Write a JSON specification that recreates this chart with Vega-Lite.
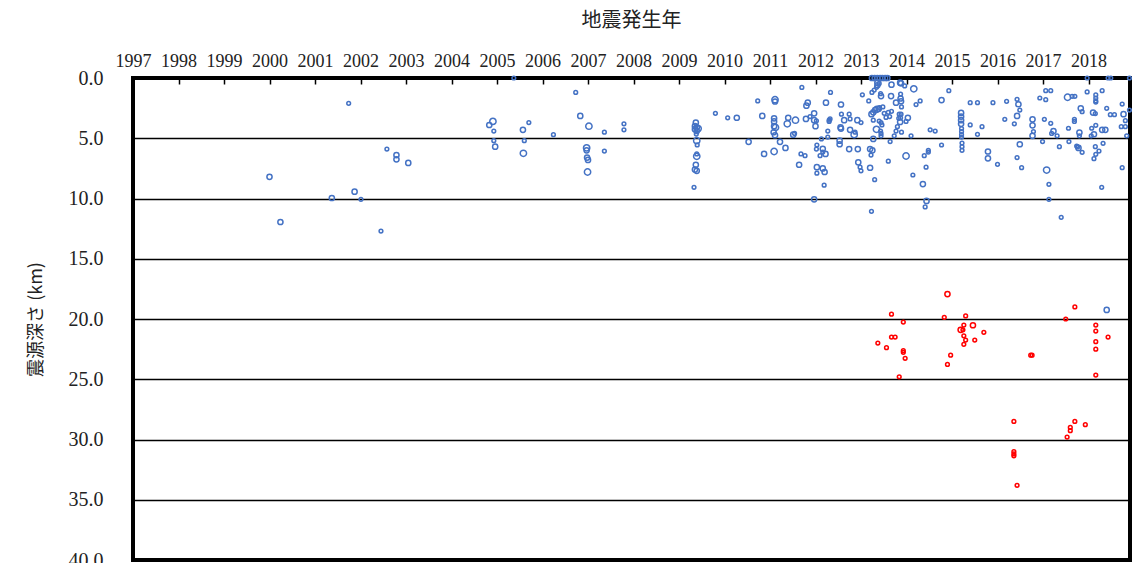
{
"$schema":"https://vega.github.io/schema/vega-lite/v6.json",
"autosize":{"type":"none"},
"padding":{"left":133,"top":78,"right":15,"bottom":10},
"width":997,"height":482,
"background":"white",
"config":{"view":{"stroke":"black","strokeWidth":4},"font":"Liberation Serif"},
"data":{"values":[
{"t":2001.74,"d":2.1,"m":1,"g":"a"},{"t":2005.37,"d":0.0,"m":1,"g":"a"},{"t":2006.73,"d":1.2,"m":1,"g":"a"},{"t":2004.91,"d":3.6,"m":3,"g":"a"},{"t":2004.83,"d":3.9,"m":2,"g":"a"},{"t":2004.93,"d":4.4,"m":1,"g":"a"},{"t":2004.93,"d":5.2,"m":1,"g":"a"},{"t":2004.96,"d":5.7,"m":2,"g":"a"},{"t":2005.70,"d":3.7,"m":1,"g":"a"},{"t":2005.57,"d":4.3,"m":2,"g":"a"},{"t":2005.60,"d":5.2,"m":1,"g":"a"},{"t":2005.58,"d":6.25,"m":3,"g":"a"},{"t":2006.24,"d":4.7,"m":1,"g":"a"},{"t":2006.83,"d":3.15,"m":2,"g":"a"},{"t":2007.02,"d":4.0,"m":3,"g":"a"},{"t":2006.97,"d":5.8,"m":3,"g":"a"},{"t":2006.97,"d":6.0,"m":2,"g":"a"},{"t":2006.98,"d":6.6,"m":2,"g":"a"},{"t":2007.00,"d":6.8,"m":2,"g":"a"},{"t":2006.99,"d":7.8,"m":3,"g":"a"},{"t":2007.36,"d":4.5,"m":1,"g":"a"},{"t":2007.36,"d":6.06,"m":1,"g":"a"},{"t":2007.79,"d":3.8,"m":1,"g":"a"},{"t":2007.79,"d":4.3,"m":1,"g":"a"},{"t":2002.58,"d":5.9,"m":1,"g":"a"},{"t":2002.79,"d":6.4,"m":2,"g":"a"},{"t":2002.79,"d":6.75,"m":2,"g":"a"},{"t":2003.05,"d":7.05,"m":2,"g":"a"},{"t":2000.00,"d":8.2,"m":2,"g":"a"},{"t":2000.24,"d":11.95,"m":2,"g":"a"},{"t":2001.37,"d":9.96,"m":2,"g":"a"},{"t":2001.87,"d":9.43,"m":2,"g":"a"},{"t":2002.01,"d":10.07,"m":1,"g":"a"},{"t":2002.45,"d":12.7,"m":1,"g":"a"},
{"t":2009.37,"d":3.7,"m":2,"g":"a"},{"t":2009.35,"d":4.0,"m":2,"g":"a"},{"t":2009.39,"d":4.1,"m":2,"g":"a"},{"t":2009.42,"d":4.2,"m":3,"g":"a"},{"t":2009.35,"d":4.25,"m":2,"g":"a"},{"t":2009.39,"d":4.4,"m":2,"g":"a"},{"t":2009.38,"d":4.65,"m":1,"g":"a"},{"t":2009.39,"d":5.2,"m":3,"g":"a"},{"t":2009.40,"d":5.55,"m":1,"g":"a"},{"t":2009.39,"d":6.3,"m":1,"g":"a"},{"t":2009.39,"d":6.5,"m":3,"g":"a"},{"t":2009.37,"d":7.2,"m":2,"g":"a"},{"t":2009.35,"d":7.6,"m":2,"g":"a"},{"t":2009.39,"d":7.7,"m":2,"g":"a"},{"t":2009.33,"d":9.07,"m":1,"g":"a"},
{"t":2009.80,"d":2.93,"m":1,"g":"a"},{"t":2010.07,"d":3.3,"m":1,"g":"a"},{"t":2010.27,"d":3.3,"m":2,"g":"a"},{"t":2010.53,"d":5.3,"m":2,"g":"a"},{"t":2010.73,"d":1.9,"m":1,"g":"a"},{"t":2010.83,"d":3.15,"m":2,"g":"a"},{"t":2010.87,"d":6.3,"m":2,"g":"a"},
{"t":2011.11,"d":1.8,"m":3,"g":"a"},{"t":2011.11,"d":1.95,"m":2,"g":"a"},{"t":2011.09,"d":3.35,"m":2,"g":"a"},{"t":2011.09,"d":3.6,"m":2,"g":"a"},{"t":2011.09,"d":4.0,"m":2,"g":"a"},{"t":2011.12,"d":4.1,"m":3,"g":"a"},{"t":2011.08,"d":4.5,"m":2,"g":"a"},{"t":2011.11,"d":4.75,"m":2,"g":"a"},{"t":2011.09,"d":6.1,"m":3,"g":"a"},{"t":2011.22,"d":5.3,"m":2,"g":"a"},{"t":2011.34,"d":5.8,"m":2,"g":"a"},{"t":2011.38,"d":3.8,"m":3,"g":"a"},{"t":2011.40,"d":3.3,"m":2,"g":"a"},{"t":2011.56,"d":3.5,"m":3,"g":"a"},{"t":2011.51,"d":4.7,"m":2,"g":"a"},{"t":2011.54,"d":4.6,"m":1,"g":"a"},{"t":2011.64,"d":7.2,"m":2,"g":"a"},{"t":2011.68,"d":6.3,"m":1,"g":"a"},{"t":2011.77,"d":6.45,"m":1,"g":"a"},{"t":2011.70,"d":0.78,"m":1,"g":"a"},{"t":2011.80,"d":2.3,"m":2,"g":"a"},{"t":2011.83,"d":2.05,"m":2,"g":"a"},{"t":2011.79,"d":3.4,"m":2,"g":"a"},{"t":2011.88,"d":3.2,"m":1,"g":"a"},{"t":2011.97,"d":2.93,"m":2,"g":"a"},{"t":2011.97,"d":3.5,"m":2,"g":"a"},{"t":2012.0,"d":4.0,"m":2,"g":"a"},{"t":2012.02,"d":3.55,"m":1,"g":"a"},{"t":2011.97,"d":10.07,"m":2,"g":"a"},{"t":2012.03,"d":5.56,"m":1,"g":"a"},{"t":2012.02,"d":5.9,"m":1,"g":"a"},{"t":2012.13,"d":5.06,"m":1,"g":"a"},{"t":2012.16,"d":5.87,"m":2,"g":"a"},{"t":2012.10,"d":6.45,"m":1,"g":"a"},{"t":2012.22,"d":6.3,"m":2,"g":"a"},{"t":2012.16,"d":6.15,"m":1,"g":"a"},{"t":2012.03,"d":7.4,"m":2,"g":"a"},{"t":2012.03,"d":7.9,"m":1,"g":"a"},{"t":2012.16,"d":7.5,"m":2,"g":"a"},{"t":2012.20,"d":7.8,"m":2,"g":"a"},{"t":2012.19,"d":8.9,"m":1,"g":"a"},{"t":2012.23,"d":2.05,"m":2,"g":"a"},{"t":2012.33,"d":1.2,"m":1,"g":"a"},{"t":2012.27,"d":4.4,"m":1,"g":"a"},{"t":2012.30,"d":3.5,"m":1,"g":"a"},{"t":2012.27,"d":4.9,"m":1,"g":"a"},
{"t":2012.56,"d":2.2,"m":2,"g":"a"},{"t":2013.03,"d":1.4,"m":1,"g":"a"},{"t":2013.17,"d":1.9,"m":1,"g":"a"},{"t":2013.24,"d":1.2,"m":1,"g":"a"},{"t":2013.29,"d":1.0,"m":1,"g":"a"},{"t":2013.34,"d":0.77,"m":1,"g":"a"},
{"t":2013.24,"d":0,"m":2,"g":"a"},{"t":2013.30,"d":0,"m":2,"g":"a"},{"t":2013.36,"d":0,"m":2,"g":"a"},{"t":2013.42,"d":0,"m":2,"g":"a"},{"t":2013.47,"d":0,"m":2,"g":"a"},{"t":2013.53,"d":0,"m":2,"g":"a"},{"t":2013.58,"d":0,"m":2,"g":"a"},
{"t":2013.36,"d":0.38,"m":2,"g":"a"},{"t":2013.40,"d":0.45,"m":1,"g":"a"},{"t":2013.36,"d":0.6,"m":2,"g":"a"},{"t":2013.44,"d":1.5,"m":2,"g":"a"},{"t":2013.43,"d":1.3,"m":1,"g":"a"},{"t":2013.67,"d":0.55,"m":2,"g":"a"},{"t":2013.66,"d":1.5,"m":2,"g":"a"},{"t":2013.86,"d":0.39,"m":2,"g":"a"},{"t":2013.87,"d":1.33,"m":1,"g":"a"},{"t":2013.87,"d":1.7,"m":2,"g":"a"},{"t":2013.88,"d":1.93,"m":2,"g":"a"},{"t":2013.77,"d":2.05,"m":2,"g":"a"},{"t":2013.96,"d":0.66,"m":1,"g":"a"},{"t":2014.16,"d":0.9,"m":3,"g":"a"},{"t":2014.21,"d":2.2,"m":1,"g":"a"},{"t":2014.30,"d":1.9,"m":1,"g":"a"},{"t":2013.89,"d":2.4,"m":1,"g":"a"},{"t":2013.88,"d":0.44,"m":2,"g":"a"},
{"t":2012.57,"d":3.0,"m":1,"g":"a"},{"t":2012.32,"d":3.4,"m":1,"g":"a"},{"t":2012.30,"d":3.6,"m":1,"g":"a"},{"t":2012.63,"d":3.5,"m":2,"g":"a"},{"t":2012.74,"d":3.0,"m":1,"g":"a"},{"t":2012.76,"d":3.4,"m":1,"g":"a"},{"t":2012.92,"d":3.5,"m":2,"g":"a"},{"t":2013.0,"d":3.7,"m":1,"g":"a"},{"t":2012.56,"d":4.2,"m":2,"g":"a"},{"t":2012.55,"d":4.1,"m":2,"g":"a"},{"t":2012.76,"d":4.3,"m":2,"g":"a"},{"t":2012.85,"d":4.7,"m":3,"g":"a"},{"t":2012.87,"d":4.5,"m":1,"g":"a"},{"t":2012.53,"d":5.2,"m":2,"g":"a"},{"t":2012.53,"d":5.5,"m":2,"g":"a"},{"t":2012.74,"d":5.9,"m":2,"g":"a"},{"t":2012.93,"d":5.9,"m":2,"g":"a"},{"t":2012.94,"d":7.0,"m":2,"g":"a"},{"t":2012.98,"d":7.4,"m":1,"g":"a"},{"t":2013.0,"d":7.7,"m":1,"g":"a"},{"t":2013.20,"d":5.9,"m":2,"g":"a"},{"t":2013.25,"d":6.0,"m":2,"g":"a"},{"t":2013.22,"d":6.4,"m":1,"g":"a"},{"t":2013.20,"d":7.45,"m":2,"g":"a"},{"t":2013.30,"d":8.44,"m":1,"g":"a"},{"t":2013.23,"d":11.06,"m":1,"g":"a"},
{"t":2013.23,"d":3.0,"m":2,"g":"a"},{"t":2013.27,"d":2.85,"m":2,"g":"a"},{"t":2013.31,"d":2.66,"m":2,"g":"a"},{"t":2013.35,"d":2.6,"m":3,"g":"a"},{"t":2013.39,"d":2.55,"m":2,"g":"a"},{"t":2013.41,"d":2.45,"m":1,"g":"a"},{"t":2013.48,"d":2.4,"m":1,"g":"a"},{"t":2013.27,"d":3.5,"m":1,"g":"a"},{"t":2013.40,"d":3.57,"m":1,"g":"a"},{"t":2013.44,"d":3.7,"m":1,"g":"a"},{"t":2013.46,"d":3.9,"m":1,"g":"a"},{"t":2013.34,"d":4.26,"m":3,"g":"a"},{"t":2013.43,"d":4.4,"m":1,"g":"a"},{"t":2013.44,"d":4.6,"m":1,"g":"a"},{"t":2013.44,"d":4.8,"m":1,"g":"a"},{"t":2013.27,"d":5.06,"m":2,"g":"a"},{"t":2013.51,"d":2.93,"m":1,"g":"a"},{"t":2013.55,"d":3.27,"m":1,"g":"a"},{"t":2013.60,"d":2.85,"m":1,"g":"a"},{"t":2013.67,"d":2.76,"m":1,"g":"a"},{"t":2013.63,"d":3.2,"m":1,"g":"a"},{"t":2013.84,"d":3.0,"m":1,"g":"a"},{"t":2013.83,"d":3.35,"m":1,"g":"a"},{"t":2013.87,"d":3.3,"m":1,"g":"a"},{"t":2013.88,"d":3.0,"m":1,"g":"a"},{"t":2014.03,"d":3.3,"m":2,"g":"a"},{"t":2013.99,"d":3.6,"m":1,"g":"a"},{"t":2013.86,"d":3.65,"m":2,"g":"a"},{"t":2013.80,"d":4.04,"m":1,"g":"a"},{"t":2013.77,"d":4.4,"m":1,"g":"a"},{"t":2013.89,"d":4.5,"m":1,"g":"a"},{"t":2013.73,"d":4.8,"m":1,"g":"a"},{"t":2013.64,"d":5.28,"m":1,"g":"a"},{"t":2014.10,"d":4.8,"m":1,"g":"a"},{"t":2013.99,"d":6.47,"m":3,"g":"a"},{"t":2013.60,"d":6.9,"m":1,"g":"a"},{"t":2014.14,"d":8.05,"m":1,"g":"a"},{"t":2014.43,"d":7.4,"m":1,"g":"a"},{"t":2014.36,"d":8.8,"m":2,"g":"a"},{"t":2014.44,"d":10.2,"m":2,"g":"a"},{"t":2014.41,"d":10.7,"m":1,"g":"a"},{"t":2014.52,"d":4.3,"m":1,"g":"a"},{"t":2014.48,"d":6.0,"m":1,"g":"a"},{"t":2014.48,"d":6.15,"m":1,"g":"a"},{"t":2014.39,"d":6.45,"m":1,"g":"a"},
{"t":2014.93,"d":1.05,"m":1,"g":"a"},{"t":2014.77,"d":1.83,"m":2,"g":"a"},{"t":2015.40,"d":2.05,"m":1,"g":"a"},{"t":2015.56,"d":2.05,"m":1,"g":"a"},{"t":2015.90,"d":2.05,"m":1,"g":"a"},{"t":2016.20,"d":1.93,"m":1,"g":"a"},{"t":2016.43,"d":1.77,"m":1,"g":"a"},{"t":2016.46,"d":2.18,"m":2,"g":"a"},{"t":2016.49,"d":2.66,"m":1,"g":"a"},{"t":2016.43,"d":3.15,"m":2,"g":"a"},{"t":2016.37,"d":3.8,"m":1,"g":"a"},{"t":2016.16,"d":3.43,"m":1,"g":"a"},
{"t":2015.20,"d":2.9,"m":2,"g":"a"},{"t":2015.20,"d":3.2,"m":2,"g":"a"},{"t":2015.20,"d":3.5,"m":2,"g":"a"},{"t":2015.20,"d":3.8,"m":2,"g":"a"},{"t":2015.21,"d":4.2,"m":1,"g":"a"},{"t":2015.21,"d":4.45,"m":1,"g":"a"},{"t":2015.21,"d":4.7,"m":1,"g":"a"},{"t":2015.21,"d":4.9,"m":1,"g":"a"},{"t":2015.22,"d":5.4,"m":1,"g":"a"},{"t":2015.22,"d":5.7,"m":1,"g":"a"},{"t":2015.22,"d":6.0,"m":1,"g":"a"},{"t":2015.40,"d":3.9,"m":1,"g":"a"},{"t":2015.66,"d":4.04,"m":1,"g":"a"},{"t":2015.56,"d":4.67,"m":1,"g":"a"},{"t":2014.63,"d":4.4,"m":1,"g":"a"},{"t":2014.77,"d":5.56,"m":1,"g":"a"},
{"t":2015.79,"d":6.1,"m":2,"g":"a"},{"t":2015.79,"d":6.67,"m":2,"g":"a"},{"t":2016.0,"d":7.16,"m":1,"g":"a"},{"t":2016.49,"d":5.5,"m":2,"g":"a"},{"t":2016.43,"d":6.6,"m":1,"g":"a"},{"t":2016.53,"d":7.44,"m":1,"g":"a"},
{"t":2016.77,"d":3.43,"m":2,"g":"a"},{"t":2016.77,"d":3.93,"m":2,"g":"a"},{"t":2016.79,"d":4.45,"m":1,"g":"a"},{"t":2016.77,"d":4.8,"m":2,"g":"a"},{"t":2016.99,"d":5.28,"m":1,"g":"a"},{"t":2017.03,"d":3.43,"m":1,"g":"a"},{"t":2017.17,"d":3.76,"m":1,"g":"a"},{"t":2017.23,"d":4.4,"m":2,"g":"a"},{"t":2017.19,"d":4.6,"m":1,"g":"a"},{"t":2017.31,"d":4.8,"m":1,"g":"a"},{"t":2016.93,"d":1.66,"m":1,"g":"a"},{"t":2017.06,"d":1.05,"m":1,"g":"a"},{"t":2017.17,"d":1.05,"m":1,"g":"a"},{"t":2017.06,"d":1.8,"m":1,"g":"a"},{"t":2017.54,"d":1.6,"m":3,"g":"a"},{"t":2017.64,"d":1.52,"m":1,"g":"a"},{"t":2017.70,"d":1.52,"m":1,"g":"a"},{"t":2017.83,"d":2.52,"m":2,"g":"a"},{"t":2017.86,"d":2.8,"m":1,"g":"a"},{"t":2017.97,"d":1.16,"m":1,"g":"a"},{"t":2018.16,"d":1.41,"m":1,"g":"a"},{"t":2018.16,"d":1.66,"m":1,"g":"a"},{"t":2018.16,"d":1.9,"m":1,"g":"a"},{"t":2018.16,"d":2.0,"m":1,"g":"a"},{"t":2018.30,"d":1.05,"m":1,"g":"a"},{"t":2018.40,"d":2.52,"m":1,"g":"a"},{"t":2018.10,"d":2.87,"m":2,"g":"a"},{"t":2018.15,"d":2.95,"m":1,"g":"a"},{"t":2017.69,"d":3.43,"m":1,"g":"a"},{"t":2017.69,"d":3.6,"m":1,"g":"a"},{"t":2017.56,"d":4.17,"m":1,"g":"a"},{"t":2017.80,"d":4.53,"m":2,"g":"a"},{"t":2017.80,"d":4.8,"m":1,"g":"a"},{"t":2017.57,"d":5.28,"m":1,"g":"a"},{"t":2017.36,"d":5.7,"m":1,"g":"a"},{"t":2017.74,"d":5.65,"m":1,"g":"a"},{"t":2017.76,"d":5.72,"m":1,"g":"a"},{"t":2017.78,"d":5.8,"m":2,"g":"a"},{"t":2017.86,"d":6.17,"m":1,"g":"a"},{"t":2018.16,"d":3.93,"m":1,"g":"a"},{"t":2018.07,"d":4.17,"m":1,"g":"a"},{"t":2018.12,"d":4.67,"m":2,"g":"a"},{"t":2018.30,"d":4.3,"m":2,"g":"a"},{"t":2018.37,"d":4.3,"m":2,"g":"a"},{"t":2018.06,"d":4.8,"m":1,"g":"a"},{"t":2018.32,"d":5.42,"m":1,"g":"a"},{"t":2018.23,"d":6.06,"m":1,"g":"a"},{"t":2018.16,"d":6.33,"m":1,"g":"a"},{"t":2018.12,"d":6.7,"m":1,"g":"a"},{"t":2018.15,"d":5.7,"m":1,"g":"a"},{"t":2018.48,"d":3.04,"m":1,"g":"a"},{"t":2018.57,"d":3.04,"m":1,"g":"a"},{"t":2018.74,"d":2.16,"m":1,"g":"a"},{"t":2018.77,"d":3.0,"m":2,"g":"a"},{"t":2018.81,"d":3.54,"m":1,"g":"a"},{"t":2018.72,"d":4.04,"m":1,"g":"a"},{"t":2018.81,"d":4.04,"m":1,"g":"a"},{"t":2018.84,"d":4.8,"m":1,"g":"a"},{"t":2018.90,"d":2.66,"m":1,"g":"a"},{"t":2018.74,"d":7.44,"m":1,"g":"a"},{"t":2018.29,"d":9.07,"m":1,"g":"a"},{"t":2017.08,"d":7.64,"m":3,"g":"a"},{"t":2017.13,"d":8.82,"m":1,"g":"a"},{"t":2017.13,"d":10.07,"m":1,"g":"a"},{"t":2017.40,"d":11.56,"m":1,"g":"a"},{"t":2017.97,"d":0,"m":1,"g":"a"},{"t":2018.43,"d":0,"m":1,"g":"a"},{"t":2018.49,"d":0,"m":1,"g":"a"},{"t":2018.90,"d":0,"m":1,"g":"a"},
{"t":2018.40,"d":19.25,"m":2,"g":"a"},
{"t":2014.90,"d":17.93,"m":2,"g":"b"},{"t":2013.67,"d":19.6,"m":1,"g":"b"},{"t":2013.93,"d":20.25,"m":1,"g":"b"},{"t":2014.83,"d":19.86,"m":1,"g":"b"},{"t":2015.30,"d":19.75,"m":1,"g":"b"},{"t":2015.26,"d":20.5,"m":1,"g":"b"},{"t":2015.19,"d":20.9,"m":2,"g":"b"},{"t":2015.24,"d":20.9,"m":1,"g":"b"},{"t":2015.46,"d":20.52,"m":2,"g":"b"},{"t":2015.26,"d":21.4,"m":1,"g":"b"},{"t":2015.30,"d":21.75,"m":1,"g":"b"},{"t":2015.26,"d":22.1,"m":1,"g":"b"},{"t":2015.50,"d":21.75,"m":1,"g":"b"},{"t":2015.70,"d":21.1,"m":1,"g":"b"},{"t":2014.97,"d":23.0,"m":1,"g":"b"},{"t":2014.90,"d":23.77,"m":1,"g":"b"},{"t":2013.37,"d":22.0,"m":1,"g":"b"},{"t":2013.56,"d":22.38,"m":1,"g":"b"},{"t":2013.67,"d":21.5,"m":1,"g":"b"},{"t":2013.75,"d":21.5,"m":1,"g":"b"},{"t":2013.93,"d":22.63,"m":1,"g":"b"},{"t":2013.93,"d":22.76,"m":1,"g":"b"},{"t":2013.97,"d":23.26,"m":1,"g":"b"},{"t":2013.84,"d":24.8,"m":1,"g":"b"},{"t":2016.73,"d":23.0,"m":1,"g":"b"},{"t":2016.76,"d":23.0,"m":1,"g":"b"},{"t":2016.36,"d":28.5,"m":1,"g":"b"},{"t":2016.36,"d":31.0,"m":1,"g":"b"},{"t":2016.36,"d":31.2,"m":1,"g":"b"},{"t":2016.36,"d":31.35,"m":1,"g":"b"},{"t":2016.43,"d":33.8,"m":1,"g":"b"},{"t":2017.50,"d":20.0,"m":1,"g":"b"},{"t":2017.70,"d":19.0,"m":1,"g":"b"},{"t":2017.70,"d":28.5,"m":1,"g":"b"},{"t":2017.60,"d":29.0,"m":1,"g":"b"},{"t":2017.60,"d":29.27,"m":1,"g":"b"},{"t":2017.53,"d":29.8,"m":1,"g":"b"},{"t":2017.93,"d":28.77,"m":1,"g":"b"},{"t":2018.16,"d":20.5,"m":1,"g":"b"},{"t":2018.16,"d":21.0,"m":1,"g":"b"},{"t":2018.16,"d":21.88,"m":1,"g":"b"},{"t":2018.16,"d":22.5,"m":1,"g":"b"},{"t":2018.16,"d":24.65,"m":1,"g":"b"},{"t":2018.43,"d":21.5,"m":1,"g":"b"}
]},
"mark":{"type":"point","filled":false,"strokeWidth":1.5,"opacity":1,"clip":false},
"encoding":{
"x":{"field":"t","type":"quantitative","scale":{"domain":[1997,2018.912],"nice":false,"zero":false},
"axis":{"orient":"top","values":[1997,1998,1999,2000,2001,2002,2003,2004,2005,2006,2007,2008,2009,2010,2011,2012,2013,2014,2015,2016,2017,2018],"format":"d","title":"地震発生年","titleFont":"Noto Sans CJK JP","titleFontSize":20,"titleFontWeight":"normal","titleColor":"#222","titleX":498,"titleY":-58,"titleBaseline":"middle","labelFont":"Liberation Serif","labelFontSize":18,"labelColor":"#222","labelPadding":14,"labelFlush":false,"labelOverlap":false,"tickSize":-6,"tickColor":"black","tickWidth":1.5,"domain":false,"grid":false}},
"y":{"field":"d","type":"quantitative","scale":{"domain":[0,40],"reverse":true,"nice":false,"zero":true},
"axis":{"values":[0,5,10,15,20,25,30,35,40],"format":".1f","title":"震源深さ (km)","titleFont":"Noto Sans CJK JP","titleFontSize":18,"titleFontWeight":"normal","titleColor":"#222","titleX":-97,"titleY":241,"titleAngle":-90,"titleAlign":"center","titleBaseline":"middle","labelFont":"Liberation Serif","labelFontSize":20,"labelColor":"#222","labelPadding":30,"ticks":false,"domain":false,"grid":true,"gridColor":"black","gridWidth":1.5,"gridOpacity":1}},
"size":{"field":"m","type":"ordinal","scale":{"domain":[1,2,3],"range":[14,40,100]},"legend":null},
"color":{"field":"g","type":"nominal","scale":{"domain":["a","b"],"range":["#4472C4","#FF0000"]},"legend":null}
}
}
